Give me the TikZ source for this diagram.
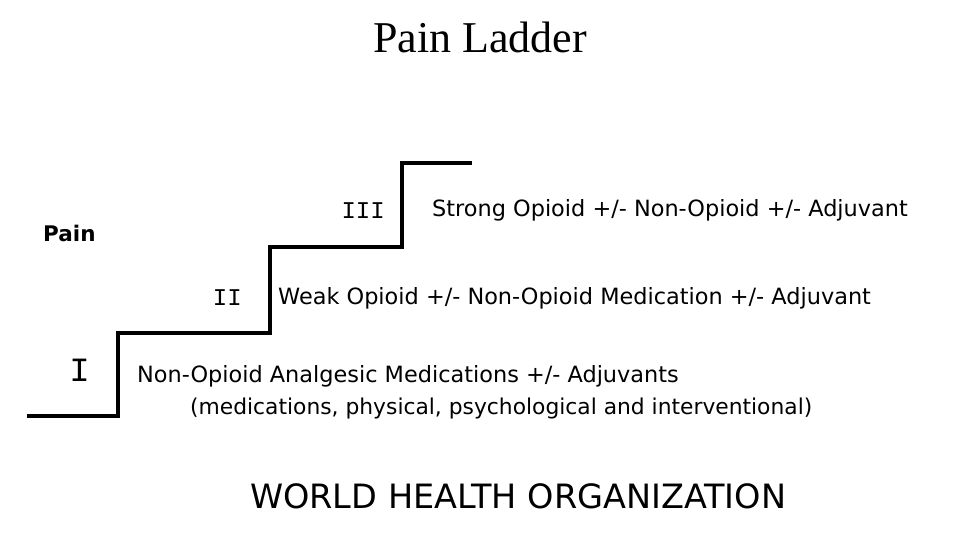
\documentclass[tikz,border=0pt]{standalone}
\usepackage{fontspec}
\setmainfont{Liberation Serif}
\newfontfamily\handfont{DejaVu Sans}
\newfontfamily\romanfont{Liberation Mono}
\usepackage{tikz}
\usetikzlibrary{positioning}

\begin{document}
\begin{tikzpicture}[
    x=1pt, y=-1pt,
    stairline/.style={line width=3.5pt, line join=miter},
    rung/.style={font=\handfont\fontsize{22.4}{26}\selectfont, anchor=west, inner sep=0pt},
    numeral/.style={font=\romanfont, anchor=east, inner sep=0pt},
]
    \useasboundingbox (0,0) rectangle (960,540);

    % title
    \node[font=\fontsize{44}{48}\selectfont, inner sep=0pt] (title) at (480,37) {Pain Ladder};
    \node[font=\handfont\bfseries\fontsize{21.5}{24}\selectfont, anchor=west, inner sep=0pt] (pain) at (43,233) {Pain};

    % the ladder
    \draw[stairline] (27,416) -| (118,333) -| (270,247) -| (402,163) -- (472,163);

    % step numbers
    \node[numeral, font=\romanfont\fontsize{34}{34}\selectfont] (one) at (90,370) {I};
    \node[numeral, font=\romanfont\fontsize{24}{24}\selectfont] (two) at (242,298) {II};
    \node[numeral, font=\romanfont\fontsize{24}{24}\selectfont] (three) at (385,211) {III};

    % step contents
    \node[rung] (strong) at (432,210) {Strong Opioid +/- Non-Opioid +/- Adjuvant};
    \node[rung] (weak) at (278,298) {Weak Opioid +/- Non-Opioid Medication +/- Adjuvant};
    \node[rung] (nonop) at (137,376) {Non-Opioid Analgesic Medications +/- Adjuvants};
    \node[rung, font=\handfont\fontsize{21.8}{26}\selectfont] (kinds) at (190,408) {(medications, physical, psychological and interventional)};

    \node[font=\handfont\fontsize{33.5}{36}\selectfont, anchor=west, inner sep=0pt] (who) at (250,496) {WORLD HEALTH ORGANIZATION};
\end{tikzpicture}
\end{document}
